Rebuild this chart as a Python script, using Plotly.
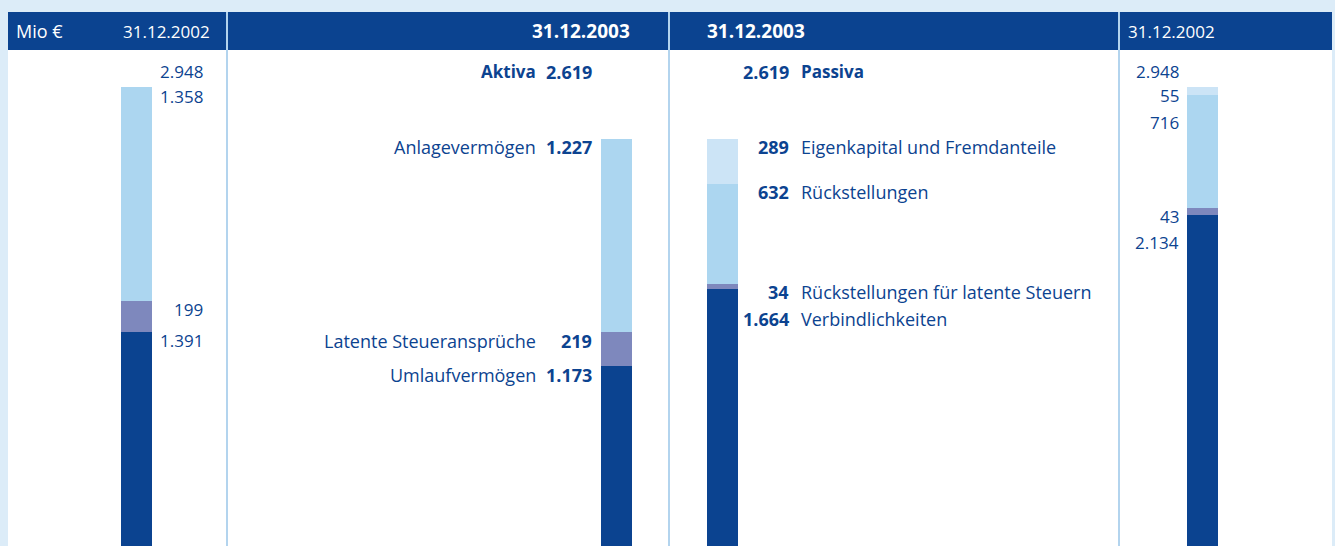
import plotly.graph_objects as go

# ---------------- data ----------------
header_unit = "Mio €"
date_prev = "31.12.2002"
date_curr = "31.12.2003"

aktiva_labels = ["Umlaufvermögen", "Latente Steueransprüche", "Anlagevermögen"]
aktiva_2002 = [1391, 199, 1358]
aktiva_2003 = [1173, 219, 1227]

passiva_labels = ["Verbindlichkeiten", "Rückstellungen für latente Steuern",
                  "Rückstellungen", "Eigenkapital und Fremdanteile"]
passiva_2003 = [1664, 34, 632, 289]
passiva_2002 = [2134, 43, 716, 55]

total_aktiva_title = "Aktiva"
total_passiva_title = "Passiva"

# ---------------- styles / layout ----------------
W, H = 1335, 546
FONT = "Open Sans"
DARK = "#0b4390"
TEXT = "#0c4390"
PURPLE = "#7e88bd"
LIGHT = "#acd6f0"
LIGHTEST = "#cce4f6"
BG = "#dcecf8"
SEP = "#b3d4ee"

aktiva_colors = [DARK, PURPLE, LIGHT]
passiva_colors = [DARK, PURPLE, LIGHT, LIGHTEST]

ZERO_PX = 551.0      # pixel row of value 0 (just below the page)
PX_PER_UNIT = 0.1575

bar_px = [(121, 152), (601, 632), (707, 738), (1187, 1218)]

SZ_NUM = 17      # regular numbers
SZ_WORD = 18     # regular words
SZ_BWORD = 17    # bold words
SZ_BNUM = 18     # bold numbers


def fmt(v):
    return f"{v:,}".replace(",", ".")


def px_x(p):
    return p / W


def px_y(p):
    return 1 - p / H


def cumtops(vals):
    out, s = [], 0
    for v in vals:
        s += v
        out.append(s)
    return out


fig = go.Figure()

columns = [
    (aktiva_2002, aktiva_colors),
    (aktiva_2003, aktiva_colors),
    (passiva_2003, passiva_colors),
    (passiva_2002, passiva_colors),
]
for i, (vals, cols) in enumerate(columns):
    xa = "x" if i == 0 else f"x{i+1}"
    for v, c in zip(vals, cols):
        fig.add_trace(go.Bar(x=[0], y=[v], xaxis=xa, yaxis="y", width=1,
                             marker=dict(color=c, line=dict(width=0)),
                             showlegend=False, hoverinfo="skip"))

y_lo = (ZERO_PX - H) / PX_PER_UNIT
y_hi = ZERO_PX / PX_PER_UNIT
layout_axes = {}
for i, (a, b) in enumerate(bar_px):
    key = "xaxis" if i == 0 else f"xaxis{i+1}"
    layout_axes[key] = dict(domain=[px_x(a), px_x(b)], range=[-0.5, 0.5],
                            visible=False, anchor="y", fixedrange=True)
layout_axes["yaxis"] = dict(domain=[0, 1], range=[y_lo, y_hi], visible=False,
                            fixedrange=True)

annotations = []


def ann(text, x, xanchor, y, yref="paper", yshift=0, bold=False, color=TEXT,
        size=17):
    annotations.append(dict(
        text=f"<b>{text}</b>" if bold else text,
        x=x, xref="paper", xanchor=xanchor,
        y=y, yref=yref, yanchor="middle", yshift=yshift,
        showarrow=False, font=dict(family=FONT, size=size, color=color)))


TOTAL_Y = px_y(72)

# header
ann(header_unit, px_x(14), "left", px_y(31), color="white", size=18)
ann(date_prev, px_x(212), "right", px_y(31), color="white", size=17)
ann(date_curr, px_x(632), "right", px_y(31), color="white", bold=True, size=19)
ann(date_curr, px_x(705), "left", px_y(31), color="white", bold=True, size=19)
ann(date_prev, px_x(1126), "left", px_y(31), color="white", size=17)

# column 1: Aktiva 2002
ann(fmt(sum(aktiva_2002)), px_x(205), "right", TOTAL_Y, size=SZ_NUM)
offs_a02 = [9, 9, 10]
for v, top, o in zip(aktiva_2002, cumtops(aktiva_2002), offs_a02):
    ann(fmt(v), px_x(205), "right", top, yref="y", yshift=-o, size=SZ_NUM)

# column 2: Aktiva 2003
ann(total_aktiva_title, px_x(538), "right", TOTAL_Y, bold=True, size=SZ_BWORD)
ann(fmt(sum(aktiva_2003)), px_x(594), "right", TOTAL_Y, bold=True, size=SZ_BNUM)
offs_a03 = [9, 9, 8]
for lab, v, top, o in zip(aktiva_labels, aktiva_2003, cumtops(aktiva_2003), offs_a03):
    ann(lab, px_x(538), "right", top, yref="y", yshift=-o, size=SZ_WORD)
    ann(fmt(v), px_x(594), "right", top, yref="y", yshift=-o, bold=True, size=SZ_BNUM)

# column 3: Passiva 2003
ann(fmt(sum(passiva_2003)), px_x(791), "right", TOTAL_Y, bold=True, size=SZ_BNUM)
ann(total_passiva_title, px_x(799), "left", TOTAL_Y, bold=True, size=SZ_BWORD)
offs_p03 = [30, 8, 8, 8]
for lab, v, top, o in zip(passiva_labels, passiva_2003, cumtops(passiva_2003), offs_p03):
    ann(fmt(v), px_x(791), "right", top, yref="y", yshift=-o, bold=True, size=SZ_BNUM)
    ann(lab, px_x(799), "left", top, yref="y", yshift=-o, size=SZ_WORD)

# column 4: Passiva 2002
ann(fmt(sum(passiva_2002)), px_x(1181), "right", TOTAL_Y, size=SZ_NUM)
offs_p02 = [28, 8, 27, 9]
for v, top, o in zip(passiva_2002, cumtops(passiva_2002), offs_p02):
    ann(fmt(v), px_x(1181), "right", top, yref="y", yshift=-o, size=SZ_NUM)

shapes = [
    # white panel
    dict(type="rect", xref="paper", yref="paper", x0=px_x(8), x1=px_x(1332),
         y0=0, y1=px_y(12), fillcolor="white", line=dict(width=0), layer="below"),
    # header band
    dict(type="rect", xref="paper", yref="paper", x0=px_x(8), x1=px_x(1332),
         y0=px_y(50), y1=px_y(12), fillcolor=DARK, line=dict(width=0), layer="below"),
]
for sx in (227, 669, 1119):
    shapes.append(dict(type="line", xref="paper", yref="paper",
                       x0=px_x(sx), x1=px_x(sx), y0=0, y1=px_y(12),
                       line=dict(color=SEP, width=2), layer="below"))

fig.update_layout(
    width=W, height=H,
    margin=dict(l=0, r=0, t=0, b=0, pad=0),
    paper_bgcolor=BG, plot_bgcolor="rgba(0,0,0,0)",
    barmode="stack", bargap=0,
    showlegend=False,
    annotations=annotations,
    shapes=shapes,
    **layout_axes,
)

fig.write_html("out.html", config={"displayModeBar": False})
